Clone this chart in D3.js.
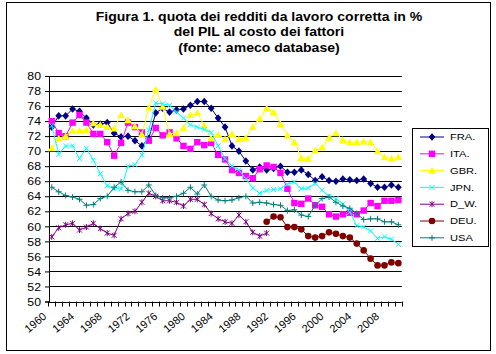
<!DOCTYPE html>
<html>
<head>
<meta charset="utf-8">
<script src="https://cdn.jsdelivr.net/npm/d3@7"></script>
<style>
body { margin: 0; background: #fff; }
.font { font-family: Arial, "Liberation Sans", sans-serif; fill: #000; }
</style>
</head>
<body>
<svg id="chart" width="496" height="354"></svg>
<script>
const years = [1960, 1961, 1962, 1963, 1964, 1965, 1966, 1967, 1968, 1969,
    1970, 1971, 1972, 1973, 1974, 1975, 1976, 1977, 1978, 1979,
    1980, 1981, 1982, 1983, 1984, 1985, 1986, 1987, 1988, 1989,
    1990, 1991, 1992, 1993, 1994, 1995, 1996, 1997, 1998, 1999,
    2000, 2001, 2002, 2003, 2004, 2005, 2006, 2007, 2008, 2009, 2010];
const xTickLabels = ["1960", "1964", "1968", "1972", "1976", "1980", "1984",
    "1988", "1992", "1996", "2000", "2004", "2008"];
const yTicks = [50, 52, 54, 56, 58, 60, 62, 64, 66, 68, 70, 72, 74, 76, 78, 80];

const fraValues = [73.2, 74.7, 74.7, 75.6, 75.3, 74.4, 73.5, 73.6, 73.8, 72.4,
    71.9, 72.0, 71.4, 70.7, 71.7, 75.1, 75.7, 75.2, 75.5, 75.6,
    76.1, 76.6, 76.6, 75.7, 74.4, 73.2, 70.7, 70.0, 68.7, 67.5,
    67.9, 67.5, 67.7, 68.0, 67.2, 67.2, 67.5, 66.9, 66.1, 66.6,
    66.1, 66.0, 66.3, 66.2, 66.1, 66.3, 65.7, 65.2, 65.2, 65.5, 65.2];
const itaValues = [74.0, 72.4, 72.0, 73.8, 74.8, 73.8, 72.3, 72.3, 71.2, 69.4,
    71.1, 73.8, 73.2, 72.5, 71.4, 73.1, 72.1, 72.5, 71.7, 70.7,
    70.3, 71.2, 70.8, 71.1, 69.5, 68.9, 67.5, 67.1, 66.7, 66.4,
    67.6, 68.1, 67.9, 67.1, 65.0, 63.1, 63.0, 63.7, 62.8, 62.6,
    61.6, 61.3, 61.6, 61.8, 61.6, 62.1, 63.1, 62.7, 63.4, 63.4, 63.5];
const gbrValues = [70.4, 71.7, 72.0, 72.7, 72.7, 72.8, 73.7, 73.5, 73.2, 73.0,
    74.8, 74.1, 73.3, 72.2, 75.8, 78.2, 75.9, 72.3, 72.4, 73.1,
    74.8, 75.1, 73.4, 71.7, 72.2, 71.6, 72.3, 71.6, 71.8, 73.2,
    74.3, 75.7, 75.2, 73.6, 72.1, 71.2, 69.1, 69.0, 70.1, 70.5,
    71.8, 72.4, 71.5, 71.2, 71.2, 71.3, 71.2, 70.0, 69.2, 69.0, 69.2];
const jpnValues = [73.4, 69.6, 70.7, 70.7, 69.0, 70.4, 68.8, 67.0, 65.4, 65.0,
    65.0, 68.0, 68.2, 69.5, 72.8, 76.4, 76.3, 76.1, 75.2, 74.4,
    73.5, 73.2, 72.9, 72.5, 70.7, 69.0, 68.0, 67.5, 66.3, 65.1,
    64.4, 64.8, 64.9, 65.0, 65.6, 65.9, 65.0, 65.1, 65.7, 64.8,
    64.0, 63.7, 63.0, 61.9, 60.1, 59.9, 59.4, 58.4, 58.6, 58.3, 57.6];
// West Germany: 1960-1991
const dwValues = [58.6, 59.8, 60.2, 60.4, 59.5, 59.9, 60.4, 59.7, 59.1, 58.8,
    61.0, 61.7, 62.0, 63.2, 64.4, 64.0, 63.4, 63.4, 63.2, 62.7,
    63.6, 63.6, 62.9, 61.7, 61.0, 60.6, 60.4, 61.5, 60.6, 59.2,
    58.7, 59.1];
// unified Germany: 1991-2010
const deuValues = [60.6, 61.3, 61.2, 59.9, 59.9, 59.6, 58.7, 58.5, 58.7, 59.2,
    59.0, 58.7, 58.5, 57.7, 56.8, 55.7, 54.8, 54.8, 55.2, 55.1];
const usaValues = [65.2, 64.6, 64.1, 63.9, 63.6, 62.8, 62.9, 63.7, 64.0, 65.2,
    65.9, 64.8, 64.6, 64.6, 65.5, 64.1, 63.8, 63.8, 64.0, 64.4,
    65.2, 64.3, 65.5, 64.0, 63.5, 63.4, 63.5, 63.8, 64.0, 63.1,
    63.2, 63.1, 62.9, 62.8, 62.1, 62.2, 61.5, 61.3, 62.8, 63.7,
    63.9, 63.2, 62.7, 62.4, 61.7, 60.9, 61.0, 61.0, 60.6, 60.6, 60.2];

const seriesNames = ["FRA.", "ITA.", "GBR.", "JPN.", "D_W.", "DEU.", "USA"];
const seriesColors = ["#000080", "#ff00ff", "#ffff00", "#00ffff", "#800080", "#800000", "#008080"];
const seriesMarkers = ["diamond", "square", "triangle", "x", "star", "circle", "plus"];
const seriesValues = [fraValues, itaValues, gbrValues, jpnValues, dwValues, deuValues, usaValues];
const seriesStart = [1960, 1960, 1960, 1960, 1960, 1991, 1960];

const TITLE_LINES = ["Figura 1. quota dei redditi da lavoro corretta in %",
    "del PIL al costo dei fattori", "(fonte: ameco database)"];

const STRETCH = 1.17;   // text in the original is drawn a bit wide
const PLOT_LEFT = 48.3;
const PLOT_RIGHT = 401.8;
const PLOT_TOP = 76;
const PLOT_BOTTOM = 301.5;

var svg = d3.select("#chart");

svg.append("rect")
    .attr("x", 0).attr("y", 0)
    .attr("width", 496).attr("height", 354)
    .attr("fill", "#fff");
svg.append("rect")
    .attr("x", 6.5).attr("y", 2.5)
    .attr("width", 484).attr("height", 348)
    .attr("fill", "none")
    .attr("stroke", "#000");

// title
svg.selectAll(".title")
    .data(TITLE_LINES)
    .enter()
    .append("text")
    .classed("title font", true)
    .attr("text-anchor", "middle")
    .attr("font-weight", "bold")
    .attr("font-size", 12)
    .attr("transform", function(d, i) {
        return "translate(259," + (20.5 + i * 15.5) + ") scale(" + STRETCH + ",1)";
    })
    .text(function(d) { return d; });

var xScale = d3.scaleBand()
    .domain(years)
    .range([PLOT_LEFT, PLOT_RIGHT]);
var xCenter = function(year) {
    return xScale(year) + xScale.bandwidth() / 2;
};
var yScale = d3.scaleLinear()
    .domain([50, 80])
    .range([PLOT_BOTTOM, PLOT_TOP]);

// grid lines
svg.append("g")
    .selectAll("line")
    .data(yTicks.filter(function(d) { return d > 50; }))
    .enter()
    .append("line")
    .attr("x1", PLOT_LEFT + 0.7)
    .attr("x2", PLOT_RIGHT)
    .attr("y1", function(d) { return Math.round(yScale(d)) + 0.5; })
    .attr("y2", function(d) { return Math.round(yScale(d)) + 0.5; })
    .attr("stroke", "#000")
    .attr("stroke-width", 1);

// y axis
var yAxis = d3.axisLeft(yScale)
    .tickValues(yTicks)
    .tickSize(4)
    .tickPadding(5)
    .tickFormat(d3.format("d"));
var yAxisGroup = svg.append("g")
    .attr("transform", "translate(" + (PLOT_LEFT + 0.7) + ",0)")
    .call(yAxis);
yAxisGroup.select(".domain").attr("stroke", "#000");
yAxisGroup.selectAll(".tick line").attr("stroke", "#000");
yAxisGroup.selectAll(".tick text")
    .attr("font-family", "Arial, 'Liberation Sans', sans-serif")
    .attr("font-size", 10.5)
    .attr("fill", "#000")
    .attr("x", null)
    .attr("dy", null)
    .attr("dominant-baseline", "central")
    .attr("transform", "translate(-8,0) scale(" + STRETCH + ",1)");

// x axis: ticks on category boundaries
var xAxisGroup = svg.append("g");
xAxisGroup.append("line")
    .attr("x1", PLOT_LEFT).attr("x2", PLOT_RIGHT)
    .attr("y1", Math.round(PLOT_BOTTOM) + 0.5).attr("y2", Math.round(PLOT_BOTTOM) + 0.5)
    .attr("stroke", "#000");
xAxisGroup.selectAll(".xtick")
    .data(years.concat([null]))
    .enter()
    .append("line")
    .attr("x1", function(d, i) { return Math.round(PLOT_LEFT + i * xScale.bandwidth()) + 0.5; })
    .attr("x2", function(d, i) { return Math.round(PLOT_LEFT + i * xScale.bandwidth()) + 0.5; })
    .attr("y1", PLOT_BOTTOM)
    .attr("y2", PLOT_BOTTOM + 5)
    .attr("stroke", "#000");
// labels through the x axis generator, then turned
var labelAxis = d3.axisBottom(d3.scalePoint()
        .domain(xTickLabels)
        .range([xCenter(1960), xCenter(2008)]))
    .tickSize(0)
    .tickPadding(0);
var labelGroup = svg.append("g")
    .attr("transform", "translate(0," + (PLOT_BOTTOM + 16) + ")")
    .call(labelAxis);
labelGroup.select(".domain").remove();
labelGroup.selectAll(".tick text")
    .attr("font-family", "Arial, 'Liberation Sans', sans-serif")
    .attr("font-size", 11)
    .attr("fill", "#000")
    .attr("y", 0)
    .attr("dy", null)
    .attr("text-anchor", "end")
    .attr("transform", "translate(-5,0) rotate(-40)");

// markers
function drawMarker(g, type, color) {
    if (type === "diamond") {
        g.append("path").attr("d", "M0,-3.8L3.4,0L0,3.8L-3.4,0Z").attr("fill", color);
    } else if (type === "square") {
        g.append("rect").attr("x", -3.2).attr("y", -3.2).attr("width", 6.4).attr("height", 6.4).attr("fill", color);
    } else if (type === "triangle") {
        g.append("path").attr("d", "M0,-3.6L3.9,3L-3.9,3Z").attr("fill", color);
    } else if (type === "circle") {
        g.append("circle").attr("r", 3.3).attr("fill", color);
    } else if (type === "x") {
        g.append("path").attr("d", "M-2.5,-2.5L2.5,2.5M-2.5,2.5L2.5,-2.5").attr("stroke", color).attr("fill", "none");
    } else if (type === "star") {
        g.append("path").attr("d", "M-2.5,-2.5L2.5,2.5M-2.5,2.5L2.5,-2.5M0,-3L0,3").attr("stroke", color).attr("fill", "none");
    } else if (type === "plus") {
        g.append("path").attr("d", "M-3,0L3,0M0,-3L0,3").attr("stroke", color).attr("fill", "none");
    }
}

var lineGroup = svg.append("g");
for (var s = 0; s < seriesNames.length; s++) {
    var startIndex = years.indexOf(seriesStart[s]);
    var points = seriesValues[s].map(function(v, i) {
        return { year: years[startIndex + i], value: v };
    });
    var line = d3.line()
        .x(function(d) { return xCenter(d.year); })
        .y(function(d) { return yScale(d.value); });
    var seriesGroup = lineGroup.append("g");
    seriesGroup.append("path")
        .datum(points)
        .attr("d", line)
        .attr("fill", "none")
        .attr("stroke", seriesColors[s])
        .attr("stroke-width", 1);
    for (var p = 0; p < points.length; p++) {
        var mg = seriesGroup.append("g")
            .attr("transform", "translate(" + xCenter(points[p].year) + "," + yScale(points[p].value) + ")");
        drawMarker(mg, seriesMarkers[s], seriesColors[s]);
    }
}

// legend
var legend = svg.append("g");
legend.append("rect")
    .attr("x", 412.5).attr("y", 128.5)
    .attr("width", 76).attr("height", 118)
    .attr("fill", "#fff")
    .attr("stroke", "#000");
var legendItem = legend.selectAll(".legend-item")
    .data(seriesNames)
    .enter()
    .append("g")
    .attr("transform", function(d, i) { return "translate(0," + (137 + i * 16.8) + ")"; });
legendItem.append("line")
    .attr("x1", 420).attr("x2", 444)
    .attr("y1", 0).attr("y2", 0)
    .attr("stroke", function(d, i) { return seriesColors[i]; });
legendItem.each(function(d, i) {
    var mg = d3.select(this).append("g").attr("transform", "translate(432,0)");
    drawMarker(mg, seriesMarkers[i], seriesColors[i]);
});
legendItem.append("text")
    .classed("font", true)
    .attr("font-size", 9.5)
    .attr("dominant-baseline", "central")
    .attr("transform", "translate(450,0) scale(" + STRETCH + ",1)")
    .text(function(d) { return d; });
</script>
</body>
</html>
